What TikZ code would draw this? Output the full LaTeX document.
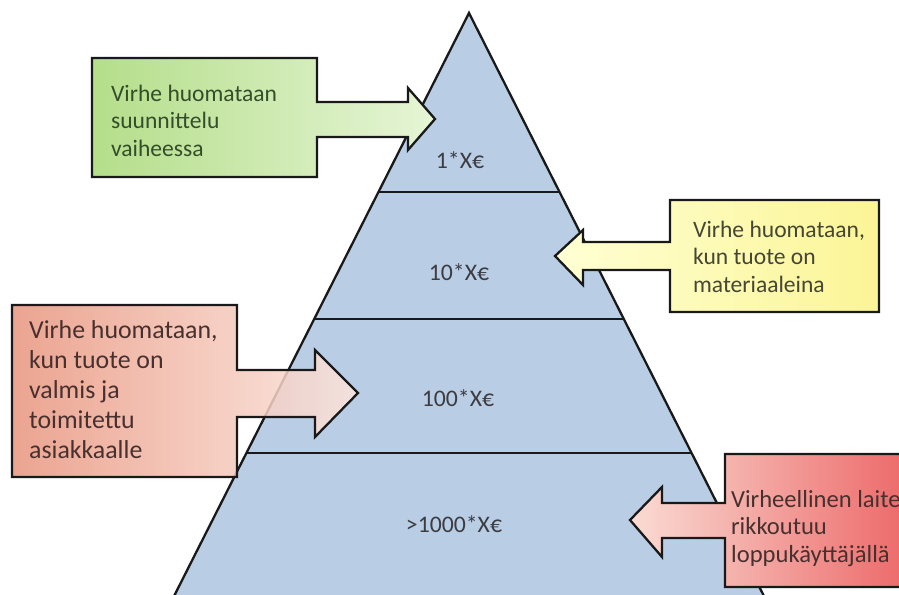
\documentclass[tikz,border=0pt]{standalone}
\usepackage{fontspec}
\setmainfont{Carlito}
\usetikzlibrary{calc}

\definecolor{pyrblue}{RGB}{185,205,228}
\definecolor{txtgray}{RGB}{60,60,66}
\definecolor{txtgrn}{RGB}{52,78,42}
\definecolor{txtolv}{RGB}{70,70,52}
\definecolor{txtbrn}{RGB}{72,48,46}
\definecolor{grnL}{RGB}{180,222,138}
\definecolor{grnR}{RGB}{230,245,214}
\definecolor{yelL}{RGB}{255,255,212}
\definecolor{yelR}{RGB}{251,245,150}
\definecolor{salL}{RGB}{232,148,125}
\definecolor{salR}{RGB}{252,230,222}
\definecolor{redL}{RGB}{250,220,212}
\definecolor{redR}{RGB}{236,104,104}

\begin{document}
\begin{tikzpicture}[x=0.2mm, y=-0.2mm, line width=1.3pt,
    callout/.style={draw=black!90, line join=miter},
    lbl/.style={font=\fontsize{13.5}{16}\selectfont, text=txtgray, anchor=base, inner sep=0pt},
    note/.style={align=left, anchor=base west, inner sep=0pt}]
  \useasboundingbox (0,0) rectangle (899,594);
  \clip (0,0) rectangle (899,594);

  \coordinate (apex) at (469,13);
  \coordinate (bl) at (167,610);
  \coordinate (br) at (771,610);

  % pyramid with three dividers
  \filldraw[fill=pyrblue, draw=black!90] (apex) -- (br) -- (bl) -- cycle;
  \foreach \t in {0.300, 0.5126, 0.737}
    \draw[black!90] ($(apex)!\t!(bl)$) -- ($(apex)!\t!(br)$);

  \node[lbl] (lvl1) at (460,168) {1*X€};
  \node[lbl] (lvl2) at (459,280) {10*X€};
  \node[lbl] (lvl3) at (458,406) {100*X€};
  \node[lbl] (lvl4) at (454,532) {>1000*X€};

  % callouts
  \shadedraw[callout, left color=grnL, right color=grnR]
    (92,58) -- (317,58) -- (317,102) -- (408,102) -- (408,88) -- (435,119)
    -- (408,150) -- (408,137) -- (317,137) -- (317,177) -- (92,177) -- cycle;
  \shadedraw[callout, left color=yelL, right color=yelR]
    (555,256) -- (583,230) -- (583,242) -- (670,242) -- (670,200) -- (879,200)
    -- (879,312) -- (670,312) -- (670,270) -- (583,270) -- (583,285) -- cycle;
  \shadedraw[callout, left color=salL, right color=salR, fill opacity=0.85]
    (12,305) -- (237,305) -- (237,370) -- (315,370) -- (315,350) -- (358,393)
    -- (315,437) -- (315,417) -- (237,417) -- (237,477) -- (12,477) -- cycle;
  \shadedraw[callout, left color=redL, right color=redR]
    (630,520) -- (662,487) -- (662,503) -- (725,503) -- (725,454) -- (910,454)
    -- (910,587) -- (725,587) -- (725,538) -- (662,538) -- (662,557) -- cycle;

  % texts (anchored at the baseline of their last line)
  \node[note, text=txtgrn, font=\fontsize{13.4}{15.4}\selectfont] (grntxt) at (110,156)
    {Virhe huomataan\\suunnittelu\\vaiheessa};
  \node[note, text=txtolv, font=\fontsize{13.4}{15.6}\selectfont] (yeltxt) at (692,292)
    {Virhe huomataan,\\kun tuote on\\materiaaleina};
  \node[note, text=txtbrn, font=\fontsize{14.7}{17}\selectfont] (saltxt) at (28,458)
    {Virhe huomataan,\\kun tuote on\\valmis ja\\toimitettu\\asiakkaalle};
  \node[note, text=txtbrn, font=\fontsize{14}{15.4}\selectfont] (redtxt) at (730,562)
    {Virheellinen laite\\rikkoutuu\\loppukäyttäjällä};
\end{tikzpicture}
\end{document}
